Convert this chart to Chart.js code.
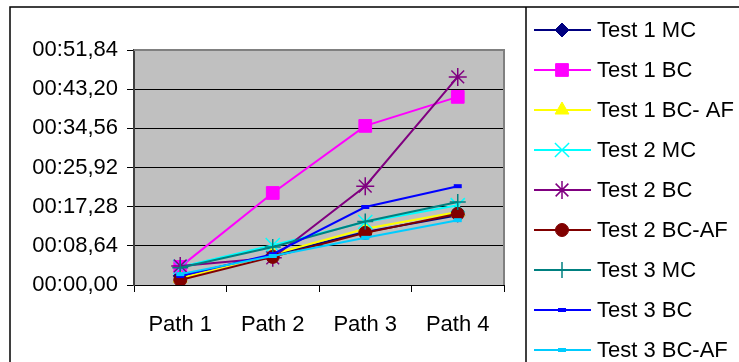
<!DOCTYPE html>
<html>
<head>
<meta charset="utf-8">
<script src="https://cdn.jsdelivr.net/npm/chart.js@4"></script>
<style>
  html, body { margin: 0; padding: 0; background: #fff; }
  #wrap { width: 739px; height: 362px; }
</style>
</head>
<body>
<div id="wrap"><canvas id="timeChart" width="739" height="362"></canvas></div>
<script>
// Categories and tick values (seconds)
const paths = ['Path 1', 'Path 2', 'Path 3', 'Path 4'];
const yTicks = [0, 8.64, 17.28, 25.92, 34.56, 43.20, 51.84];

// Series values, seconds
const test1MC   = [2.0, 6.6, 11.7, 15.4];
const test1BC   = [4.0, 20.3, 35.1, 41.5];
const test1BCAF = [1.5, 6.8, 12.4, 16.1];
const test2MC   = [4.0, 8.8, 13.9, 17.6];
const test2BC   = [4.2, 6.0, 21.8, 45.9];
const test2BCAF = [1.1, 6.2, 11.5, 15.7];
const test3MC   = [3.8, 8.4, 14.0, 18.3];
const test3BC   = [2.0, 6.8, 17.2, 21.8];
const test3BCAF = [2.4, 6.4, 10.4, 14.3];

const FONT = '"Liberation Sans", Arial, sans-serif';

const series = [
    { label: 'Test 1 MC',     data: test1MC,   color: '#000080', style: 'rectRot',  r: 7 },
    { label: 'Test 1 BC',     data: test1BC,   color: '#FF00FF', style: 'rect',     r: 9 },
    { label: 'Test 1 BC- AF', data: test1BCAF, color: '#FFFF00', style: 'triangle', r: 8 },
    { label: 'Test 2 MC',     data: test2MC,   color: '#00FFFF', style: 'crossRot', r: 10 },
    { label: 'Test 2 BC',     data: test2BC,   color: '#800080', style: 'star',     r: 9 },
    { label: 'Test 2 BC-AF',  data: test2BCAF, color: '#800000', style: 'circle',   r: 6.5 },
    { label: 'Test 3 MC',     data: test3MC,   color: '#008080', style: 'cross',    r: 8 },
    { label: 'Test 3 BC',     data: test3BC,   color: '#0000FF', style: 'line',     r: 4 },
    { label: 'Test 3 BC-AF',  data: test3BCAF, color: '#00CCFF', style: 'line',     r: 4 }
];

const isThin = s => s === 'cross' || s === 'crossRot' || s === 'star';

//  seconds -> "00:SS,cc"
const fmtTime = v => {
    const cs = Math.round(v * 100);
    const min = Math.floor(cs / 6000);
    const sec = Math.floor((cs % 6000) / 100);
    const frac = cs % 100;
    const pad = n => String(n).padStart(2, '0');
    return `${pad(min)}:${pad(sec)},${pad(frac)}`;
};

//  Frame, plot background and legend box
const framePlugin = {
    id: 'frame',
    beforeDraw(chart) {
        const { ctx, chartArea: a } = chart;
        ctx.save();
        ctx.fillStyle = '#C0C0C0';
        ctx.fillRect(a.left, a.top, a.right - a.left, a.bottom - a.top);
        ctx.restore();
    },
    beforeDatasetsDraw(chart) {
        const { ctx, chartArea: a } = chart;
        ctx.save();
        ctx.strokeStyle = '#808080';
        ctx.lineWidth = 2;
        ctx.beginPath();
        ctx.moveTo(a.left, a.top);
        ctx.lineTo(a.right, a.top);
        ctx.lineTo(a.right, a.bottom);
        ctx.stroke();
        ctx.restore();
    },
    afterDraw(chart) {
        const { ctx } = chart;
        ctx.save();
        ctx.strokeStyle = '#000';
        ctx.lineWidth = 1.5;
        ctx.strokeRect(10, 7, 800, 400);
        ctx.beginPath();
        ctx.moveTo(526, 7);
        ctx.lineTo(526, 362);
        ctx.stroke();

        //  Legend entries
        chart.data.datasets.forEach((ds, i) => {
            const y = 30 + i * 40;
            ctx.strokeStyle = ds.borderColor;
            ctx.lineWidth = 2;
            ctx.beginPath();
            ctx.moveTo(534, y);
            ctx.lineTo(591, y);
            ctx.stroke();
            ctx.fillStyle = ds.pointBackgroundColor;
            ctx.strokeStyle = ds.pointBorderColor;
            ctx.lineWidth = ds.pointBorderWidth;
            Chart.helpers.drawPoint(ctx, {
                pointStyle: ds.pointStyle,
                rotation: 0,
                radius: ds.pointRadius,
                borderWidth: ds.pointBorderWidth
            }, 562, y);
            ctx.fillStyle = '#000';
            ctx.font = `22px ${FONT}`;
            ctx.textBaseline = 'middle';
            ctx.textAlign = 'left';
            ctx.fillText(ds.label, 597, y + 1);
        });
        ctx.restore();
    }
};

new Chart(document.getElementById('timeChart'), {
    type: 'line',
    data: {
        labels: paths,
        datasets: series.map((s, i) => ({
            label: s.label,
            data: s.data,
            borderColor: s.color,
            backgroundColor: s.color,
            borderWidth: 2,
            pointStyle: s.style,
            pointRadius: s.r,
            pointBackgroundColor: s.color,
            pointBorderColor: s.color,
            pointBorderWidth: s.style === 'line' ? 4 : (isThin(s.style) ? 1.5 : 1),
            tension: 0,
            fill: false,
            order: -i
        }))
    },
    options: {
        responsive: false,
        animation: false,
        layout: { padding: { left: 0, top: 50, right: 235, bottom: 0 } },
        plugins: {
            legend: { display: false },
            tooltip: { enabled: false }
        },
        scales: {
            x: {
                offset: true,
                grid: {
                    offset: true,
                    drawOnChartArea: false,
                    drawTicks: true,
                    tickLength: 7,
                    color: '#000'
                },
                border: { color: '#000', width: 1 },
                ticks: { color: '#000', font: { family: FONT, size: 22 }, padding: 20, maxRotation: 0 },
                afterFit: s => { s.height = 77; }
            },
            y: {
                min: 0,
                max: 51.84,
                afterBuildTicks: axis => { axis.ticks = yTicks.map(v => ({ value: v })); },
                grid: {
                    color: ctx => (ctx.index === yTicks.length - 1 ? '#808080' : '#000'),
                    lineWidth: 1,
                    tickLength: 7,
                    tickColor: '#000'
                },
                border: { color: '#404040', width: 2 },
                ticks: {
                    color: '#000',
                    font: { family: FONT, size: 22 },
                    padding: 9,
                    callback: v => fmtTime(v)
                },
                afterFit: s => { s.width = 134; }
            }
        }
    },
    plugins: [framePlugin]
});
</script>
</body>
</html>
